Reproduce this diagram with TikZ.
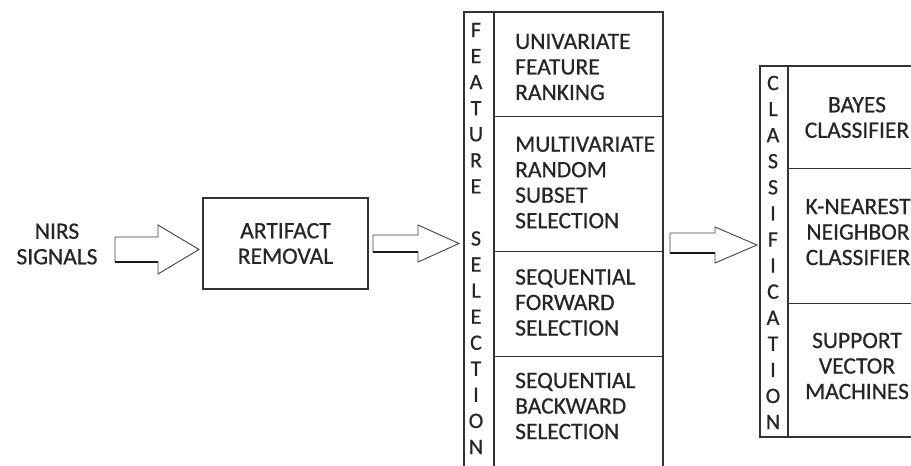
\documentclass[tikz,border=0pt]{standalone}
\usepackage{fontspec}
\setmainfont{Carlito}[FakeBold=0.6]
\usetikzlibrary{calc}
\begin{document}
\begin{tikzpicture}[x=1pt,y=-1pt,
  txt/.style={font=\fontsize{23.5}{25.5}\selectfont, text=black!85, inner sep=0pt},
  letter/.style={font=\fontsize{22}{24}\selectfont, text=black!85, inner sep=0pt},
  frame/.style={draw=black!80, line width=1.4pt},
  rowbox/.style={draw=none, inner sep=0pt},
  barrow/.style={draw=black!75, line width=0.9pt, fill=white, line join=miter},
  shaftedge/.style={draw=black!90, line width=2pt}]
\useasboundingbox (0,0) rectangle (911,466);
\clip (0,0) rectangle (911,466);

% input and artifact removal
\node[txt, align=center] (nirs) at (57,244) {NIRS\\SIGNALS};
\node[frame, minimum width=165pt, minimum height=91pt, txt, align=center] (art) at (285.5,243.5) {ARTIFACT\\REMOVAL};

% feature selection block
\draw[frame] (464,480) -- (464,12) -- (663,12) -- (663,480);
\draw[frame] (494,12) -- (494,480);
\node[rowbox, minimum width=169pt, minimum height=104pt] (f1) at (578.5,64) {};
\node[rowbox, minimum width=169pt, minimum height=135pt] (f2) at (578.5,183.5) {};
\node[rowbox, minimum width=169pt, minimum height=105pt] (f3) at (578.5,303.5) {};
\node[rowbox, minimum width=169pt, minimum height=100pt] (f4) at (578.5,406) {};
\draw[frame] (f1.south west) -- (f1.south east);
\draw[frame] (f2.south west) -- (f2.south east);
\draw[frame] (f3.south west) -- (f3.south east);
\node[txt, align=left, anchor=west] (ft1) at (515,67) {UNIVARIATE\\FEATURE\\RANKING};
\node[txt, align=left, anchor=west] (ft2) at (515,182.5) {MULTIVARIATE\\RANDOM\\SUBSET\\SELECTION};
\node[txt, align=left, anchor=west] (ft3) at (515,302.5) {SEQUENTIAL\\FORWARD\\SELECTION};
\node[txt, align=left, anchor=west] (ft4) at (515,406) {SEQUENTIAL\\BACKWARD\\SELECTION};
\foreach \l [count=\i from 0] in {F,E,A,T,U,R,E,{},S,E,L,E,C,T,I,O,N}
  \node[letter] (fs\i) at (476,{30+26.06*\i}) {\l};

% classification block
\draw[frame] (930,66) -- (760,66) -- (760,437) -- (930,437);
\draw[frame] (788,66) -- (788,437);
\node[rowbox, minimum width=138pt, minimum height=102pt] (c1) at (857,117) {};
\node[rowbox, minimum width=138pt, minimum height=135pt] (c2) at (857,235.5) {};
\node[rowbox, minimum width=138pt, minimum height=134pt] (c3) at (857,370) {};
\draw[frame] (c1.south west) -- (c1.south east);
\draw[frame] (c2.south west) -- (c2.south east);
\node[txt, align=center] (ct1) at (857,117.5) {BAYES\\CLASSIFIER};
\node[txt, align=center] (ct2) at (858,232) {K-NEAREST\\NEIGHBOR\\CLASSIFIER};
\node[txt, align=center] (ct3) at (857,366) {SUPPORT\\VECTOR\\MACHINES};
\foreach \l [count=\i from 0] in {C,L,A,S,S,I,F,I,C,A,T,I,O,N}
  \node[letter] (cl\i) at (773,{83+26.08*\i}) {\l};

% block arrows
\draw[barrow] (115,237) -- (158,237) -- (158,225) -- (199,249.5) -- (158,274) -- (158,262) -- (115,262) -- cycle;
\draw[shaftedge] (115,262) -- (158,262);
\draw[barrow] (373,235) -- (418,235) -- (418,225) -- (459,243.5) -- (418,262) -- (418,252) -- (373,252) -- cycle;
\draw[shaftedge] (373,252) -- (418,252);
\draw[barrow] (670,233) -- (715,233) -- (715,227) -- (757,245) -- (715,263) -- (715,253) -- (670,253) -- cycle;
\draw[shaftedge] (670,253) -- (715,253);
\end{tikzpicture}
\end{document}
